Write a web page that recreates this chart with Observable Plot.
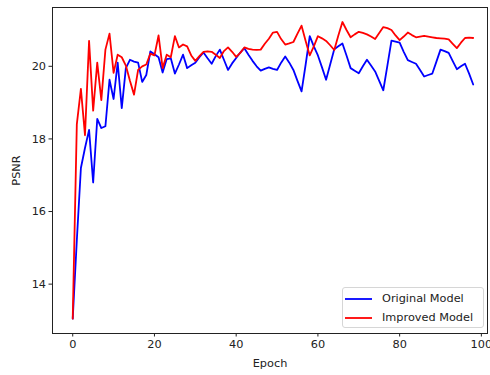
<!DOCTYPE html>
<html>
<head>
<meta charset="utf-8">
<script src="https://cdn.jsdelivr.net/npm/d3@7"></script>
<script src="https://cdn.jsdelivr.net/npm/@observablehq/plot@0.6"></script>
<style>
  html, body { margin: 0; padding: 0; background: #fff; }
  #wrap { position: relative; width: 490px; height: 375px; font-family: "DejaVu Sans", sans-serif; }
  #legend { position: absolute; left: 342px; top: 287px; width: 142px; height: 41px;
    border: 1px solid #d6d6d6; border-radius: 3px; background: rgba(255,255,255,0.85);
    box-sizing: border-box; font-size: 11.3px; color: #222; }
  .row { position: absolute; left: 2px; height: 14px; display: flex; align-items: center; }
  .row span { margin-left: 9px; }
</style>
</head>
<body>
<div id="wrap"><div id="chart"></div><div id="legend"></div></div>
<script>
const seriesNames = ["Original Model", "Improved Model"];
const seriesColors = ["#0000ff", "#ff0000"];
const xTicks = [0, 20, 40, 60, 80, 100];
const yTicks = [14, 16, 18, 20];

const original = [
  13.05, 15.2, 17.2, 17.75, 18.25, 16.8, 18.55, 18.3, 18.35, 19.63,
  19.1, 20.1, 18.85, 19.95, 20.18, 20.13, 20.1, 19.57, 19.76, 20.41,
  20.33, 20.25, 19.83, 20.2, 20.22, 19.8, 20.05, 20.32, 19.95, 20.03,
  20.1, 20.25, 20.38, 20.22, 20.07, 20.28, 20.46, 20.18, 19.9, 20.08,
  20.23, 20.38, 20.5, 20.32, 20.15, 20.0, 19.88, 19.93, 19.97, 19.93,
  19.9, 20.1, 20.27, 20.1, 19.9, 19.6, 19.31, 20.05, 20.83, 20.55,
  20.3, 19.97, 19.63, 20.05, 20.47, 20.55, 20.63, 20.3, 19.95, 19.88,
  19.81, 20.0, 20.18, 20.02, 19.86, 19.6, 19.34, 20.02, 20.71, 20.68,
  20.65, 20.4, 20.17, 20.12, 20.07, 19.9, 19.72, 19.76, 19.8, 20.13,
  20.46, 20.42, 20.37, 20.14, 19.92, 20.0, 20.07, 19.8, 19.5
];
const improved = [
  13.05, 18.4, 19.38, 18.1, 20.7, 18.78, 20.1, 19.07, 20.46, 20.9,
  19.82, 20.32, 20.25, 20.02, 19.6, 19.22, 19.9, 20.0, 20.05, 20.35,
  20.3, 20.85, 19.95, 20.32, 20.25, 20.83, 20.52, 20.6, 20.55, 20.3,
  20.15, 20.28, 20.4, 20.41, 20.4, 20.32, 20.23, 20.42, 20.52, 20.4,
  20.26, 20.37, 20.52, 20.48, 20.46, 20.45, 20.46, 20.62, 20.76, 20.93,
  20.95, 20.75, 20.6, 20.63, 20.67, 20.9, 21.12, 20.7, 20.3, 20.55,
  20.83, 20.77, 20.7, 20.58, 20.45, 20.85, 21.22, 21.0, 20.8, 20.88,
  20.95, 20.92, 20.88, 20.82, 20.75, 20.92, 21.08, 21.05, 21.0, 20.85,
  20.72, 20.82, 20.93, 20.86, 20.8, 20.82, 20.84, 20.82, 20.8, 20.78,
  20.77, 20.76, 20.74, 20.62, 20.5, 20.65, 20.78, 20.79, 20.78
];

const table = [];
[original, improved].forEach((vals, s) => vals.forEach((v, i) => table.push({epoch: i, psnr: v, series: seriesNames[s]})));

const chart = Plot.plot({
  width: 490,
  height: 375,
  marginLeft: 52,
  marginRight: 3,
  marginTop: 7,
  marginBottom: 42,
  style: { fontFamily: "DejaVu Sans, sans-serif", background: "#fff", color: "#222" },
  x: { domain: [-4.95, 101.5] },
  y: { domain: [12.64, 21.62] },
  color: { domain: seriesNames, range: seriesColors },
  marks: [
    Plot.axisX({ticks: xTicks, tickSize: 3.5, tickPadding: 3, fontSize: 11.3, label: "Epoch", labelAnchor: "center", labelArrow: "none", labelOffset: 33, stroke: "#222"}),
    Plot.axisY({ticks: yTicks, tickSize: 3.5, tickPadding: 3, fontSize: 11.3, label: "PSNR", labelAnchor: "center", labelArrow: "none", labelOffset: 41, stroke: "#222"}),
    Plot.line(table, {x: "epoch", y: "psnr", z: "series", stroke: "series", strokeWidth: 1.8, strokeLinejoin: "round"}),
    Plot.frame({stroke: "#222", strokeWidth: 1})
  ]
});
document.getElementById("chart").appendChild(chart);

const legend = document.getElementById("legend");
seriesNames.forEach((name, i) => {
  const row = document.createElement("div");
  row.className = "row";
  row.style.top = (i === 0 ? 3.5 : 22.5) + "px";
  row.innerHTML = `<svg width="28" height="4"><line x1="0" x2="27" y1="2" y2="2" stroke="${seriesColors[i]}" stroke-width="1.8"/></svg><span>${name}</span>`;
  legend.appendChild(row);
});
</script>
</body>
</html>
